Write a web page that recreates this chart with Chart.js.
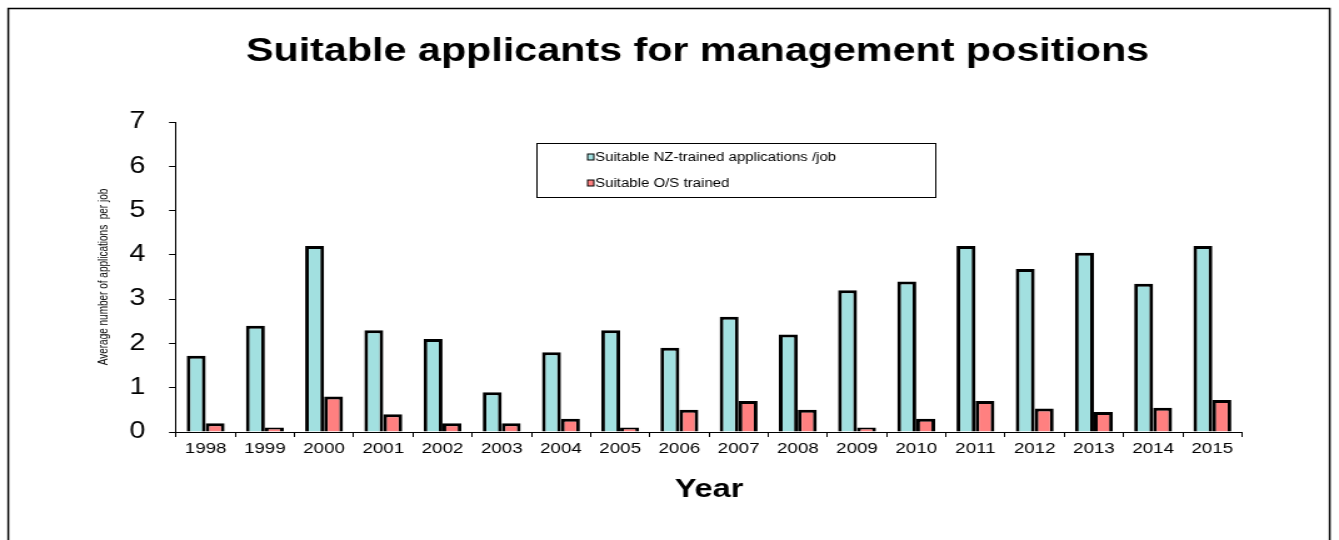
<!DOCTYPE html>
<html>
<head>
<meta charset="utf-8">
<script src="https://cdn.jsdelivr.net/npm/chart.js@4.4.0/dist/chart.umd.min.js"></script>
<style>
  html, body { margin: 0; padding: 0; background: #fff; overflow: hidden; }
  #wrap { width: 1339px; height: 540px; }
  /* the original picture is stretched horizontally, so draw narrow and scale */
  #chart { transform: scaleX(1.2502); transform-origin: 0 0; }
</style>
</head>
<body>
<div id="wrap"><canvas id="chart" width="1071" height="540"></canvas></div>
<script>
const years = ['1998', '1999', '2000', '2001', '2002', '2003', '2004', '2005', '2006',
               '2007', '2008', '2009', '2010', '2011', '2012', '2013', '2014', '2015'];
const nzTrained = [1.72, 2.4, 4.2, 2.3, 2.1, 0.9, 1.8, 2.3, 1.9, 2.6, 2.2, 3.2, 3.4, 4.2, 3.68, 4.05, 3.35, 4.2];
const osTrained = [0.2, 0.1, 0.8, 0.4, 0.2, 0.2, 0.3, 0.1, 0.5, 0.7, 0.5, 0.1, 0.3, 0.7, 0.53, 0.45, 0.55, 0.72];
const yTicks = [0, 1, 2, 3, 4, 5, 6, 7];

const FONT = "'Liberation Sans', Arial, sans-serif";

// title, frame and boxed legend drawn by hand
const extras = {
    id: 'extras',
    afterDraw(chart) {
        const ctx = chart.ctx;
        ctx.save();
        ctx.strokeStyle = '#000';
        ctx.lineWidth = 1.5;
        ctx.strokeRect(6.6, 8.5, 1057, 600);

        ctx.fillStyle = '#000';
        ctx.font = 'bold 33px ' + FONT;
        ctx.textAlign = 'center';
        ctx.textBaseline = 'alphabetic';
        ctx.fillText('Suitable applicants for management positions', 558, 61);

        // legend box
        ctx.lineWidth = 1;
        ctx.strokeRect(429.5, 143.5, 319, 54);
        ctx.font = '12px ' + FONT;
        ctx.textAlign = 'left';
        ctx.textBaseline = 'middle';
        const rows = [157, 183];
        chart.data.datasets.forEach((ds, i) => {
            const y = rows[i];
            ctx.fillStyle = ds.backgroundColor;
            ctx.fillRect(470, y - 3, 5, 6);
            ctx.strokeStyle = '#000';
            ctx.lineWidth = 1;
            ctx.strokeRect(470, y - 3, 5, 6);
            ctx.fillStyle = '#000';
            ctx.fillText(ds.label, 476, y + 1);
        });
        ctx.restore();
    }
};

const ctx = document.getElementById('chart').getContext('2d');
const chart = new Chart(ctx, {
    type: 'bar',
    data: {
        labels: years,
        datasets: [{
            label: 'Suitable NZ-trained applications /job',
            data: nzTrained,
            backgroundColor: '#a2e0e0',
            borderColor: '#000',
            borderWidth: 3
        }, {
            label: 'Suitable O/S trained',
            data: osTrained,
            backgroundColor: '#ff8080',
            borderColor: '#000',
            borderWidth: 3
        }]
    },
    options: {
        responsive: false,
        animation: false,
        devicePixelRatio: 1,
        layout: { padding: { left: 0, right: 77.6, top: 122, bottom: 0 } },
        datasets: {
            bar: { categoryPercentage: 0.64, barPercentage: 1 }
        },
        scales: {
            x: {
                afterFit: (scale) => { scale.height = 108; },
                grid: {
                    drawOnChartArea: false,
                    drawTicks: true,
                    tickLength: 5,
                    tickColor: '#000',
                    offset: true
                },
                border: { display: true, color: '#000', width: 1 },
                ticks: {
                    color: '#000',
                    font: { family: FONT, size: 15 },
                    padding: 3,
                    maxRotation: 0
                },
                title: {
                    display: true,
                    text: 'Year',
                    color: '#000',
                    font: { family: FONT, size: 26, weight: 'bold' },
                    padding: { top: 4, bottom: 35 }
                }
            },
            y: {
                min: 0,
                max: 7,
                afterFit: (scale) => { scale.width = 140.8; },
                afterBuildTicks: (scale) => { scale.ticks = yTicks.map(v => ({ value: v })); },
                grid: {
                    drawOnChartArea: false,
                    drawTicks: true,
                    tickLength: 5.6,
                    tickColor: '#000'
                },
                border: { display: true, color: '#000', width: 1 },
                ticks: {
                    color: '#000',
                    font: { family: FONT, size: 23 },
                    padding: 19
                },
                title: {
                    display: true,
                    text: 'Average number of applications  per job',
                    color: '#000',
                    font: { family: FONT, size: 10 },
                    padding: { top: 77, bottom: 0 }
                }
            }
        },
        plugins: {
            legend: { display: false },
            title: { display: false },
            tooltip: { enabled: false }
        }
    },
    plugins: [extras]
});
</script>
</body>
</html>
